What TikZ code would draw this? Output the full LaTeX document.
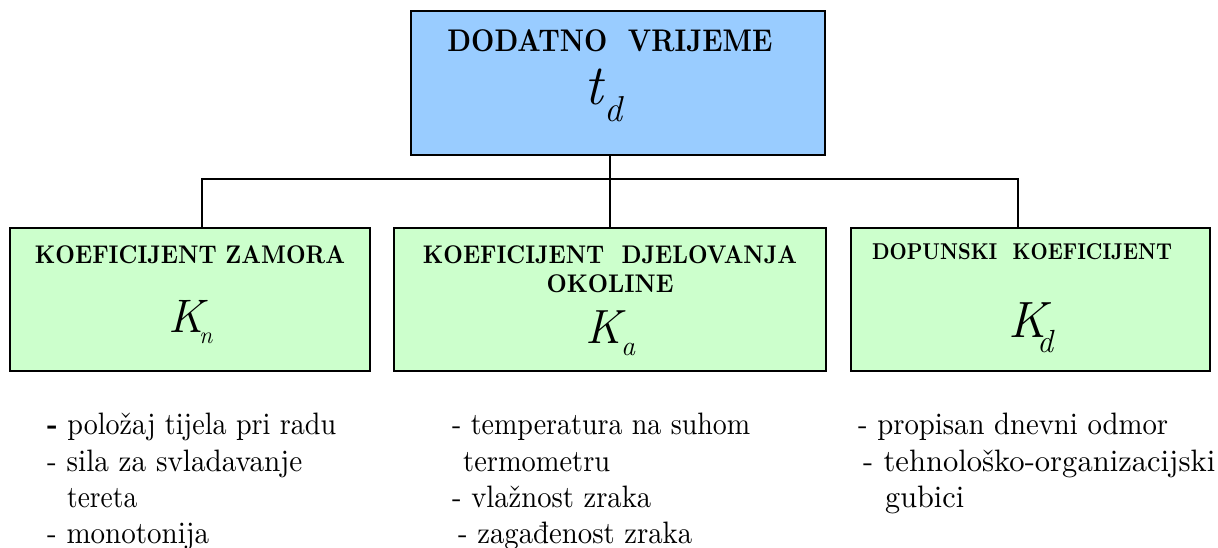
\documentclass[tikz,border=0pt]{standalone}
\usepackage{graphicx}
\usepackage{fontspec}
\definecolor{topblue}{HTML}{99CCFF}
\definecolor{boxgreen}{HTML}{CCFFCC}
% fit a lowercase line to a width and an ascender height
\newcommand{\fitlc}[2]{\resizebox{#1pt}{21.5pt}{\vphantom{l}\smash{#2}}}
% fit a capitals line to a width and a cap height
\newcommand{\fitcap}[3]{\resizebox{#1pt}{#2pt}{\vphantom{H}\smash{\addfontfeature{FakeBold=1.2}#3}}}
\begin{document}
\begin{tikzpicture}[x=1pt,y=-1pt,
  box/.style={draw, line width=2pt, anchor=north west, inner sep=0pt, outer sep=0pt},
  txt/.style={anchor=base, inner sep=0pt, font=\bfseries},
  formula/.style={anchor=base west, inner sep=0pt, font=\itshape},
  item/.style={anchor=base west, inner sep=0pt},
  conn/.style={line width=2pt}]
\useasboundingbox (0,0) rectangle (1218,548);
% boxes
\node[box, fill=topblue, minimum width=414pt, minimum height=144pt] (top) at (411,11) {};
\node[box, fill=boxgreen, minimum width=360pt, minimum height=143pt] (b1) at (10,228) {};
\node[box, fill=boxgreen, minimum width=432pt, minimum height=143pt] (b2) at (394,228) {};
\node[box, fill=boxgreen, minimum width=359pt, minimum height=143pt] (b3) at (851,228) {};
% connectors
\coordinate (j1) at (202,179);
\coordinate (j2) at (610,179);
\coordinate (j3) at (1018,179);
\draw[conn] (j2 |- top.south) -- (j2 |- b2.north);
\draw[conn] (j1 |- b1.north) -- (j1) -- (j3) -- (j3 |- b3.north);
% top box text
\node[txt] (ttitle) at (610,52) {\fitcap{325}{21.5}{DODATNO\ \ VRIJEME}};
\node[formula] (tform) at (584,105) {\rlap{\fontsize{57}{57}\selectfont t}\kern20pt\raisebox{-17pt}{\fontsize{36}{36}\selectfont d}};
% box 1
\node[txt] (t1) at (190,263) {\fitcap{310}{17.5}{KOEFICIJENT ZAMORA}};
\node[formula] (f1) at (168,332) {\rlap{\fontsize{47}{47}\selectfont K}\kern31pt\raisebox{-11pt}{\fontsize{24}{24}\selectfont n}};
% box 2
\node[txt] (t2a) at (610,263) {\fitcap{374}{17.5}{KOEFICIJENT\ \ DJELOVANJA}};
\node[txt] (t2b) at (610,292) {\fitcap{127}{17.5}{OKOLINE}};
\node[formula] (f2) at (585,343) {\rlap{\fontsize{48}{48}\selectfont K}\kern36pt\raisebox{-12pt}{\fontsize{28}{28}\selectfont a}};
% box 3
\node[txt] (t3) at (1022,259) {\fitcap{300}{15.7}{DOPUNSKI\ \ KOEFICIJENT}};
\node[formula] (f3) at (1008,337) {\rlap{\fontsize{51}{51}\selectfont K}\kern29pt\raisebox{-15pt}{\fontsize{32}{32}\selectfont d}};
% lists
\node[item] (l11) at (47,434) {\fitlc{289}{\textbf{-} položaj tijela pri radu}};
\node[item] (l12) at (47,471) {\fitlc{255}{- sila za svladavanje}};
\node[item] (l13) at (67,507) {\fitlc{70}{tereta}};
\node[item] (l14) at (47,543) {\fitlc{162}{- monotonija}};
\node[item] (l21) at (452,434) {\fitlc{298}{- temperatura na suhom}};
\node[item] (l22) at (463,471) {\fitlc{147}{termometru}};
\node[item] (l23) at (452,507) {\fitlc{199}{- vlažnost zraka}};
\node[item] (l24) at (458,543) {\fitlc{234}{- zagađenost zraka}};
\node[item] (l31) at (858,434) {\fitlc{310}{- propisan dnevni odmor}};
\node[item] (l32) at (863,471) {\fitlc{352}{- tehnološko-organizacijski}};
\node[item] (l33) at (885,507) {\fitlc{79}{gubici}};
\end{tikzpicture}
\end{document}
